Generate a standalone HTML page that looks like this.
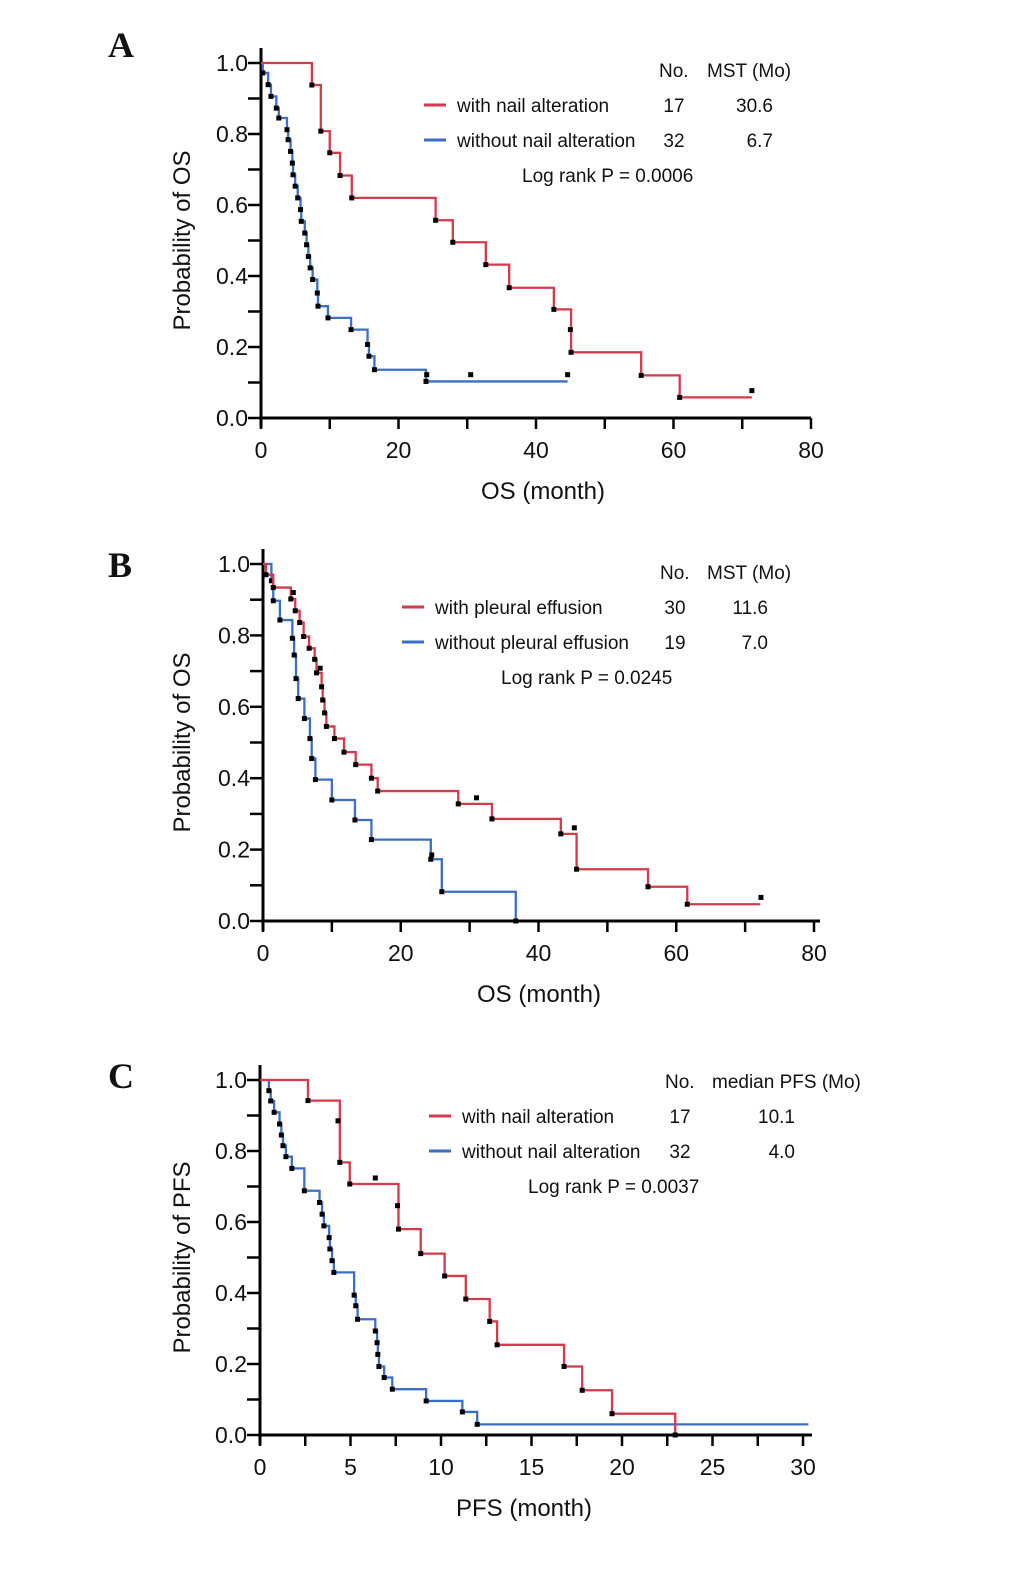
<!DOCTYPE html>
<html><head><meta charset="utf-8">
<style>
html,body{margin:0;padding:0;background:#fff;}
svg{display:block;}
text{font-family:"Liberation Sans",Arial,sans-serif;fill:#111;}
.letter{font-family:"Liberation Serif","Times New Roman",serif;font-weight:bold;font-size:36px;}
.tick{font-size:23px;}
.ttl{font-size:24px;}
.leg{font-size:19px;}
</style></head>
<body>
<svg id="fig" width="1035" height="1580" viewBox="0 0 1035 1580" xmlns="http://www.w3.org/2000/svg"></svg>
<script>
// ---- Panel A data (OS by nail alteration) ----
const aRedT = [7.4, 8.7, 10.0, 11.5, 13.2, 25.4, 27.9, 32.7, 36.1, 42.6, 45.1, 55.3, 60.9];
const aRedV = [0.938, 0.808, 0.747, 0.683, 0.620, 0.557, 0.495, 0.432, 0.367, 0.306, 0.185, 0.120, 0.058];
const aRedEnd = 71.4;
const aRedCensT = [45.0, 71.4];
const aRedCensV = [0.249, 0.077];
const aBlueT = [0.26,1.04,1.45,2.23,2.59,3.78,3.94,4.30,4.56,4.66,4.97,5.34,5.75,5.85,6.37,6.63,6.89,7.15,7.51,8.19,8.29,9.74,13.1,15.5,15.7,16.5,24.0];
const aBlueV = [0.972,0.939,0.906,0.873,0.845,0.812,0.784,0.751,0.718,0.685,0.653,0.620,0.587,0.554,0.521,0.488,0.455,0.423,0.390,0.352,0.315,0.282,0.249,0.207,0.174,0.136,0.103];
const aBlueEnd = 44.6;
const aBlueCensT = [24.1, 30.5, 44.6];
const aBlueCensV = [0.122, 0.122, 0.122];
// ---- Panel B data (OS by pleural effusion) ----
const bRedT = [0.43,1.49,4.04,4.68,5.32,5.90,6.70,7.50,7.77,8.51,8.67,8.94,9.20,10.37,11.76,13.46,15.74,16.65,28.35,33.24,43.24,45.53,55.90,61.60];
const bRedV = [0.970,0.934,0.902,0.869,0.836,0.797,0.764,0.733,0.695,0.656,0.619,0.583,0.545,0.511,0.473,0.438,0.400,0.364,0.328,0.286,0.244,0.145,0.096,0.047];
const bRedEnd = 72.2;
const bRedCensT = [31.0, 45.2, 72.3, 4.4, 8.3];
const bRedCensV = [0.345, 0.261, 0.066, 0.920, 0.708];
const bBlueT = [1.22,1.49,2.45,4.26,4.52,4.79,5.11,6.01,6.81,7.07,7.61,10.0,13.35,15.74,24.36,25.96,36.7];
const bBlueV = [0.953,0.897,0.843,0.792,0.745,0.679,0.623,0.567,0.511,0.455,0.396,0.339,0.283,0.228,0.173,0.082,0.0];
const bBlueEnd = 36.7;
const bBlueCensT = [24.5];
const bBlueCensV = [0.185];
// ---- Panel C data (PFS by nail alteration) ----
const cRedT = [2.65,4.41,4.96,7.65,8.88,10.2,11.37,12.69,13.1,16.8,17.8,19.45,22.94];
const cRedV = [0.942,0.768,0.707,0.580,0.511,0.448,0.383,0.320,0.254,0.193,0.126,0.060,0.0];
const cRedEnd = 22.94;
const cRedCensT = [6.37, 4.31, 7.6];
const cRedCensV = [0.724, 0.885, 0.646];
const cBlueT = [0.49,0.59,0.78,1.08,1.18,1.27,1.43,1.76,2.45,3.29,3.43,3.53,3.82,3.86,3.98,4.08,5.2,5.29,5.39,6.37,6.47,6.51,6.57,6.86,7.31,9.18,11.18,12.0];
const cBlueV = [0.970,0.941,0.909,0.876,0.845,0.815,0.784,0.751,0.688,0.655,0.622,0.589,0.556,0.524,0.491,0.458,0.394,0.364,0.326,0.293,0.260,0.227,0.193,0.162,0.129,0.096,0.065,0.030];
const cBlueEnd = 30.3;
const cBlueCensT = [];
const cBlueCensV = [];
// tick labels
const yTickLabels = ["0.0","0.2","0.4","0.6","0.8","1.0"];
const osTickLabels = ["0","20","40","60","80"];
const pfsTickLabels = ["0","5","10","15","20","25","30"];

const NS = "http://www.w3.org/2000/svg";
const svg = document.getElementById("fig");
const RED = "#d23b4b", BLUE = "#3b6fc5";
function mk(tag, attrs, parent){
  const e = document.createElementNS(NS, tag);
  for (const k in attrs) e.setAttribute(k, attrs[k]);
  (parent||svg).appendChild(e);
  return e;
}
function txt(x,y,s,cls,anchor,parent){
  const t = mk("text",{x:x,y:y,class:cls,"text-anchor":anchor||"start"},parent);
  t.textContent = s; return t;
}

function panel(p){
  const g = mk("g",{});
  
  
  const X = t => p.x0 + (t - 0) / p.xmax * (p.x1 - p.x0);
  const Y = v => p.y0 - v * (p.y0 - p.y1);
  const L = txt(p.letterX, p.letterY, p.letter, "letter", "start", g);
  
  
  const ya = mk("line",{x1:X(0),y1:p.y1-15,x2:X(0),y2:p.y0+10,stroke:"#000","stroke-width":3},g);
  
  
  const xa = mk("line",{x1:X(0)-2,y1:p.y0,x2:p.axisEnd,y2:p.y0,stroke:"#000","stroke-width":3},g);
  
  
  for (let i=0;i<=10;i++){
    const y = Y(i/10);
    mk("line",{x1:X(0)-13,y1:y,x2:X(0),y2:y,stroke:"#000","stroke-width":2.5},g);
  }
  yTickLabels.forEach((s,i)=>{
    const t = txt(X(0)-13, Y(i*0.2)+8, s, "tick", "end", g);
    
    
  });
  for (let t=0;t<=p.xmax+1e-9;t+=p.minorStep){
    mk("line",{x1:X(t),y1:p.y0,x2:X(t),y2:p.y0+11,stroke:"#000","stroke-width":2.5},g);
  }
  p.xLabels.forEach((s,i)=>{
    const t = txt(X(i*p.labelStep), p.y0+40, s, "tick", "middle", g);
    
    
  });
  const xt = txt(p.xTitleX, p.y0+81, p.xTitle, "ttl", "middle", g);
  
  
  const cy = (p.y0+p.y1)/2;
  const yt = txt(190, cy, p.yTitle, "ttl", "middle", g);
  yt.setAttribute("transform", "rotate(-90 190 "+cy+")");
  
  
  function curve(T,V,end,cT,cV,color,nm){
    let d = "M"+X(0)+","+Y(1);
    T.forEach((t,i)=>{ d += " H"+X(t)+" V"+Y(V[i]); });
    d += " H"+X(end);
    const path = mk("path",{d:d,fill:"none",stroke:color,"stroke-width":2.3},g);
    
    
    T.forEach((t,i)=>{
      const r = mk("rect",{x:X(t)-2.5,y:Y(V[i])-2.5,width:5,height:5,fill:"#000"},g);
      
      
    });
    cT.forEach((t,i)=>{
      const r = mk("rect",{x:X(t)-2.5,y:Y(cV[i])-2.5,width:5,height:5,fill:"#000"},g);
      
      
    });
  }
  curve(p.bT,p.bV,p.bEnd,p.bcT,p.bcV,BLUE,"blue");
  curve(p.rT,p.rV,p.rEnd,p.rcT,p.rcV,RED,"red");
  const lg = p.leg;
  const h1 = txt(lg.noX, lg.y0, "No.", "leg", "start", g);
  
  
  const h2 = txt(lg.hdrX, lg.y0, lg.hdr, "leg", "start", g);
  
  
  [[RED,lg.r],[BLUE,lg.b]].forEach((e,i)=>{
    const y = lg.y0 + 35*(i+1);
    const ln = mk("line",{x1:lg.lineX,y1:y-7,x2:lg.lineX+22,y2:y-7,stroke:e[0],"stroke-width":3},g);
    
    
    const a = txt(lg.lineX+33, y, e[1][0], "leg", "start", g);
    
    
    const b = txt(lg.numX, y, e[1][1], "leg", "middle", g);
    
    
    const c = txt(lg.medX, y, e[1][2], "leg", "end", g);
    
    
  });
  const lr = txt(lg.lrX, lg.y0+105, lg.lr, "leg", "start", g);
  
  
}

panel({name:"panel-a",letter:"A",letterX:108,letterY:57,x0:261,x1:811,xmax:80,axisEnd:811,y0:418,y1:63,
  minorStep:10,labelStep:20,xLabels:osTickLabels,xTitle:"OS (month)",xTitleX:543,yTitle:"Probability of OS",
  rT:aRedT,rV:aRedV,rEnd:aRedEnd,rcT:aRedCensT,rcV:aRedCensV,bT:aBlueT,bV:aBlueV,bEnd:aBlueEnd,bcT:aBlueCensT,bcV:aBlueCensV,
  leg:{y0:77,noX:659,hdrX:707,hdr:"MST (Mo)",lineX:424,numX:674,medX:773,lrX:522,lr:"Log rank P = 0.0006",
    r:["with nail alteration","17","30.6"],b:["without nail alteration","32","6.7"]}});
panel({name:"panel-b",letter:"B",letterX:108,letterY:577,x0:263,x1:814,xmax:80,axisEnd:820,y0:921,y1:564,
  minorStep:10,labelStep:20,xLabels:osTickLabels,xTitle:"OS (month)",xTitleX:539,yTitle:"Probability of OS",
  rT:bRedT,rV:bRedV,rEnd:bRedEnd,rcT:bRedCensT,rcV:bRedCensV,bT:bBlueT,bV:bBlueV,bEnd:bBlueEnd,bcT:bBlueCensT,bcV:bBlueCensV,
  leg:{y0:579,noX:660,hdrX:707,hdr:"MST (Mo)",lineX:402,numX:675,medX:768,lrX:501,lr:"Log rank P = 0.0245",
    r:["with pleural effusion","30","11.6"],b:["without pleural effusion","19","7.0"]}});
panel({name:"panel-c",letter:"C",letterX:108,letterY:1088,x0:260,x1:803,xmax:30,axisEnd:812,y0:1435,y1:1080,
  minorStep:2.5,labelStep:5,xLabels:pfsTickLabels,xTitle:"PFS (month)",xTitleX:524,yTitle:"Probability of PFS",
  rT:cRedT,rV:cRedV,rEnd:cRedEnd,rcT:cRedCensT,rcV:cRedCensV,bT:cBlueT,bV:cBlueV,bEnd:cBlueEnd,bcT:cBlueCensT,bcV:cBlueCensV,
  leg:{y0:1088,noX:665,hdrX:712,hdr:"median PFS (Mo)",lineX:429,numX:680,medX:795,lrX:528,lr:"Log rank P = 0.0037",
    r:["with nail alteration","17","10.1"],b:["without nail alteration","32","4.0"]}});
</script>
</body></html>
